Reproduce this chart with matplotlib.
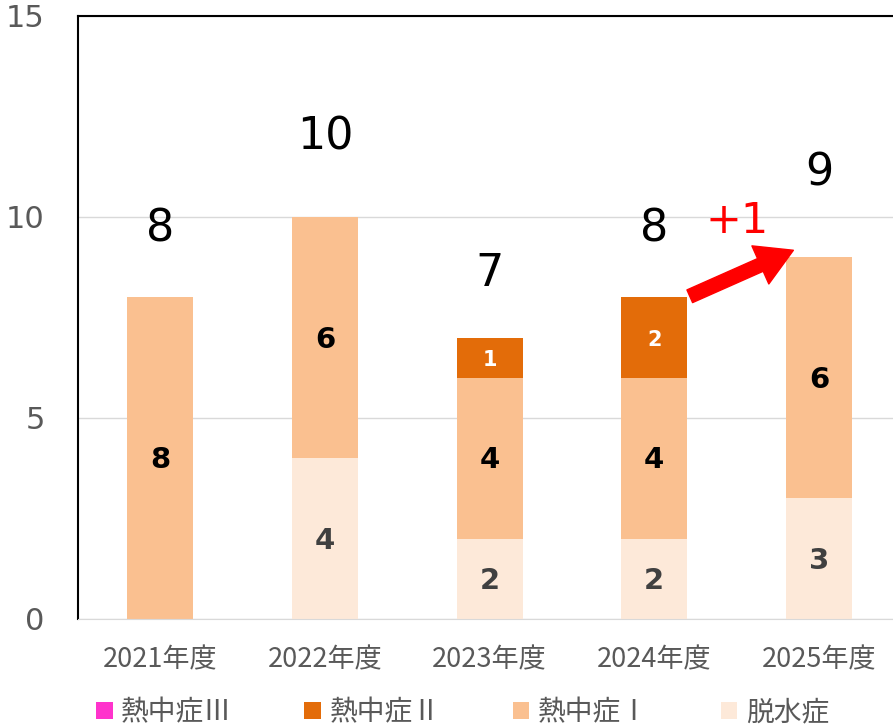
import matplotlib.pyplot as plt
from matplotlib.patches import FancyArrowPatch
import numpy as np

plt.rcParams['font.family'] = ['Noto Sans CJK JP', 'DejaVu Sans']

# data
years = ["2021年度", "2022年度", "2023年度", "2024年度", "2025年度"]
dehydration = [0, 4, 2, 2, 3]      # 脱水症
heat_1 = [8, 6, 4, 4, 6]           # 熱中症Ⅰ
heat_2 = [0, 0, 1, 2, 0]           # 熱中症Ⅱ
heat_3 = [0, 0, 0, 0, 0]           # 熱中症Ⅲ
total_label_gap = [1.7, 2.0, 1.6, 1.7, 2.1]

series = [
    ("脱水症", dehydration, "#FDE9D9", "#404040"),
    ("熱中症Ⅰ", heat_1, "#FAC090", "black"),
    ("熱中症Ⅱ", heat_2, "#E36C09", "white"),
    ("熱中症Ⅲ", heat_3, "#FF33CC", "white"),
]

fig = plt.figure(figsize=(8.93, 7.27), dpi=100)
ax = fig.add_axes([0.0873, 0.1486, 0.922, 0.8294])

x = np.arange(len(years))
bottom = np.zeros(len(years))
handles = {}
for name, vals, color, txt_color in series:
    vals = np.array(vals, dtype=float)
    bars = ax.bar(x, vals, 0.4, bottom=bottom, color=color, zorder=2)
    handles[name] = bars
    for xi, b, v in zip(x, bottom, vals):
        if v > 0:
            fs = 15 if txt_color == "white" else 21
            ax.text(xi, b + v / 2 - 0.05, f"{int(v)}", ha="center", va="center",
                    fontsize=fs, fontweight="bold", color=txt_color,
                    family="DejaVu Sans", zorder=3)
    bottom += vals

totals = bottom
for xi, t, g in zip(x, totals, total_label_gap):
    ax.text(xi, t + g, f"{int(t)}", ha="center", va="center", fontsize=32,
            color="black", family="DejaVu Sans")

# change arrow 2024 -> 2025
arrow = FancyArrowPatch((3.2, 8.0), (3.86, 9.2),
                        arrowstyle="simple,tail_width=0.5,head_width=1.5,head_length=1.3",
                        mutation_scale=20, color="red", zorder=4)
ax.add_patch(arrow)
ax.text(3.5, 9.9, "+1", ha="center", va="center", fontsize=31, color="red",
        family="DejaVu Sans")

ax.set_xlim(-0.5, 4.5)
ax.set_ylim(0, 15)
ax.set_yticks([0, 5, 10, 15])
ax.set_xticks(x)
ax.set_xticklabels(years)
ax.tick_params(axis="both", length=0, colors="#595959", labelsize=19.5)
ax.tick_params(axis="y", pad=24)
ax.tick_params(axis="x", pad=20)
for lbl in ax.get_yticklabels():
    lbl.set_fontfamily("DejaVu Sans")
    lbl.set_fontsize(22)
ax.yaxis.grid(True, color="#D9D9D9", linewidth=1, zorder=0)
ax.set_axisbelow(True)
ax.spines["left"].set_color("black")
ax.spines["top"].set_color("black")
ax.spines["bottom"].set_color("#D9D9D9")
ax.spines["right"].set_visible(False)
for s in ["left", "top"]:
    ax.spines[s].set_linewidth(1.5)

order = ["熱中症Ⅲ", "熱中症Ⅱ", "熱中症Ⅰ", "脱水症"]
leg = fig.legend([handles[n] for n in order], order, loc="center",
                 bbox_to_anchor=(0.518, 0.02), ncol=4, frameon=False,
                 fontsize=20, handlelength=0.6, handleheight=0.6,
                 handletextpad=0.3, columnspacing=2.6, labelcolor="#595959")

fig.savefig("out.png", dpi=100)
